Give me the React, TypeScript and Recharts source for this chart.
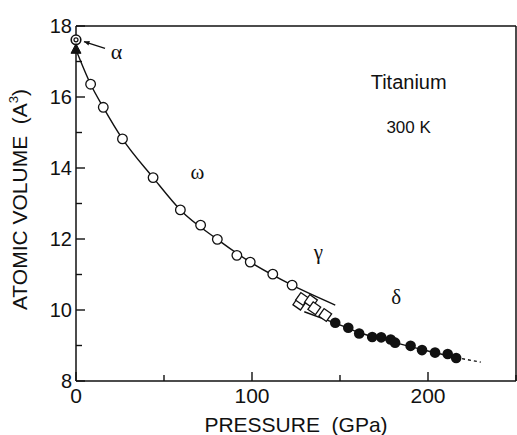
import React from "react";
import {
  ComposedChart,
  Line,
  Scatter,
  XAxis,
  YAxis,
  ReferenceDot,
  ReferenceLine,
  Label,
} from "recharts";

// values
const alphaP = [0];
const alphaV = [17.61];
const triP = [0];
const triV = [17.33];
const omegaP = [8.3, 15.5, 26.4, 43.8, 59.3, 70.8, 80.3, 91.4, 99.0, 111.8, 122.8];
const omegaV = [16.36, 15.71, 14.82, 13.73, 12.82, 12.39, 11.99, 11.54, 11.35, 11.01, 10.7];
const gammaP = [126.9, 128.4, 133.5, 135.4, 141.6];
const gammaV = [10.18, 10.31, 10.25, 10.05, 9.86];
const deltaP = [147.3, 154.7, 160.9, 168.3, 173.4, 178.8, 181.3, 190.1, 196.6, 204.0, 211.2, 216.0];
const deltaV = [9.64, 9.5, 9.34, 9.24, 9.23, 9.17, 9.08, 8.99, 8.87, 8.8, 8.76, 8.65];

// hand-drawn fit curves
const fitOmegaP = [0, 8.3, 15.5, 26.4, 43.8, 59.3, 80.3, 99.0, 122.8, 147.3];
const fitOmegaV = [17.33, 16.36, 15.71, 14.82, 13.73, 12.82, 11.99, 11.35, 10.7, 10.14];
const fitDeltaP = [129.7, 147.3, 163, 180, 197, 216];
const fitDeltaV = [9.95, 9.63, 9.33, 9.1, 8.88, 8.66];
const fitDeltaExtP = [216, 230];
const fitDeltaExtV = [8.66, 8.53];

const xTicks = [0, 50, 100, 150, 200, 250];
const xLabeled = [0, 100, 200];
const yTicks = [8, 9, 10, 11, 12, 13, 14, 15, 16, 17, 18];
const yLabeled = [8, 10, 12, 14, 16, 18];

// annotations: text, pressure, volume
const noteText = ["ω", "γ", "δ"];
const noteP = [69, 137.7, 182];
const noteV = [13.9, 11.63, 10.39];

const pts = (p: number[], v: number[]) => p.map((x, i) => ({ p: x, v: v[i] }));

const INK = "#111";
const SANS = "'Liberation Sans', Arial, sans-serif";
const SERIF = "'Liberation Serif', 'DejaVu Serif', serif";

const LeftTick = (props: any) => {
  const { x, y, payload } = props;
  const ax = x + 6;
  const major = yLabeled.includes(payload.value);
  return (
    <g>
      <line x1={ax} x2={ax + (major ? 9 : 6)} y1={y} y2={y} stroke={INK} strokeWidth={1.4} />
      {major && (
        <text x={ax - 4} y={y + 7} textAnchor="end" fontSize={20} fontFamily={SANS} fill={INK}>
          {payload.value}
        </text>
      )}
    </g>
  );
};

const RightTick = (props: any) => {
  const { x, y, payload } = props;
  const ax = x - 6;
  const major = yLabeled.includes(payload.value);
  return <line x1={ax} x2={ax - (major ? 9 : 6)} y1={y} y2={y} stroke={INK} strokeWidth={1.4} />;
};

const BottomTick = (props: any) => {
  const { x, y, payload } = props;
  const ay = y - 6;
  const major = xLabeled.includes(payload.value);
  return (
    <g>
      <line x1={x} x2={x} y1={ay} y2={ay - (major ? 9 : 6)} stroke={INK} strokeWidth={1.4} />
      {major && (
        <text x={x} y={ay + 22} textAnchor="middle" fontSize={21} fontFamily={SANS} fill={INK}>
          {payload.value}
        </text>
      )}
    </g>
  );
};

const TopTick = (props: any) => {
  const { x, y, payload } = props;
  const ay = y + 6;
  const major = xLabeled.includes(payload.value);
  return <line x1={x} x2={x} y1={ay} y2={ay + (major ? 9 : 6)} stroke={INK} strokeWidth={1.4} />;
};

const OpenCircle = (p: any) => (
  <circle cx={p.cx} cy={p.cy} r={4.8} fill="#fff" stroke={INK} strokeWidth={1.3} />
);
const FilledCircle = (p: any) => <circle cx={p.cx} cy={p.cy} r={5.3} fill={INK} />;
const DoubleCircle = (p: any) => (
  <g>
    <circle cx={p.cx} cy={p.cy} r={4.8} fill="#fff" stroke={INK} strokeWidth={1.6} />
    <circle cx={p.cx} cy={p.cy} r={2} fill="none" stroke={INK} strokeWidth={1.2} />
  </g>
);
const Triangle = (p: any) => (
  <polygon
    points={`${p.cx},${p.cy - 6} ${p.cx - 5},${p.cy + 3.5} ${p.cx + 5},${p.cy + 3.5}`}
    fill={INK}
    stroke={INK}
  />
);
const Diamond = (p: any) => (
  <rect
    x={p.cx - 4.6}
    y={p.cy - 4.6}
    width={9.2}
    height={9.2}
    fill="#fff"
    stroke={INK}
    strokeWidth={1.3}
    transform={`rotate(35 ${p.cx} ${p.cy})`}
  />
);

const Arrow = (p: any) => {
  const { x1, y1, x2, y2 } = p;
  const ang = Math.atan2(y1 - y2, x1 - x2);
  const len = 6;
  const a1 = ang + 0.4;
  const a2 = ang - 0.4;
  return (
    <g>
      <line x1={x1} y1={y1} x2={x2} y2={y2} stroke={INK} strokeWidth={1.3} />
      <polygon
        points={`${x1},${y1} ${x1 - len * Math.cos(a1)},${y1 - len * Math.sin(a1)} ${x1 - len * Math.cos(a2)},${y1 - len * Math.sin(a2)}`}
        fill={INK}
      />
    </g>
  );
};

const TextDot = (txt: string, size: number, family: string) => (p: any) => (
  <text
    x={p.cx}
    y={p.cy + size * 0.35}
    textAnchor="middle"
    fontSize={size}
    fontFamily={family}
    fill={INK}
  >
    {txt}
  </text>
);

export default function App() {
  return (
    <div style={{ position: "absolute", left: 0, top: 0, background: "#fff" }}>
      <ComposedChart
        width={517}
        height={435}
        margin={{ top: 16, right: 0, bottom: 0, left: 0 }}
      >
        <XAxis
          dataKey="p"
          type="number"
          domain={[0, 250]}
          ticks={xTicks}
          height={54}
          axisLine={{ stroke: INK, strokeWidth: 1.5 }}
          tickLine={false}
          tickSize={0}
          tickMargin={6}
          tick={<BottomTick />}
          interval={0}
        >
          <Label
            content={(lp: any) => {
              const vb = lp.viewBox;
              return (
                <text
                  x={vb.x + vb.width / 2}
                  y={vb.y + vb.height - 3}
                  textAnchor="middle"
                  fontSize={21}
                  fontFamily={SANS}
                  fill={INK}
                  xmlSpace="preserve"
                >
                  {"PRESSURE  (GPa)"}
                </text>
              );
            }}
          />
        </XAxis>
        <XAxis
          xAxisId="top"
          orientation="top"
          dataKey="p"
          type="number"
          domain={[0, 250]}
          ticks={xTicks}
          height={10}
          axisLine={{ stroke: INK, strokeWidth: 1.5 }}
          tickLine={false}
          tickSize={0}
          tickMargin={6}
          tick={<TopTick />}
          interval={0}
        />
        <YAxis
          dataKey="v"
          type="number"
          domain={[8, 18]}
          ticks={yTicks}
          width={76}
          axisLine={{ stroke: INK, strokeWidth: 1.5 }}
          tickLine={false}
          tickSize={0}
          tickMargin={6}
          tick={<LeftTick />}
          interval={0}
        >
          <Label
            content={(lp: any) => {
              const vb = lp.viewBox;
              const cx = vb.x + 27;
              const cy = vb.y + vb.height / 2 - 4;
              return (
                <text
                  x={cx}
                  y={cy}
                  textAnchor="middle"
                  fontSize={21}
                  fontFamily={SANS}
                  fill={INK}
                  transform={`rotate(-90 ${cx} ${cy})`}
                  xmlSpace="preserve"
                >
                  {"ATOMIC VOLUME  (A"}
                  <tspan fontSize={13} dy={-9}>3</tspan>
                  <tspan dy={9}>)</tspan>
                </text>
              );
            }}
          />
        </YAxis>
        <YAxis
          yAxisId="right"
          orientation="right"
          dataKey="v"
          type="number"
          domain={[8, 18]}
          ticks={yTicks}
          width={1}
          axisLine={{ stroke: INK, strokeWidth: 1.5 }}
          tickLine={false}
          tickSize={0}
          tickMargin={6}
          tick={<RightTick />}
          interval={0}
        />

        <Line
          data={pts(fitOmegaP, fitOmegaV)}
          dataKey="v"
          type="monotone"
          stroke={INK}
          strokeWidth={1.4}
          dot={false}
          activeDot={false}
          isAnimationActive={false}
        />
        <Line
          data={pts(fitDeltaP, fitDeltaV)}
          dataKey="v"
          type="monotone"
          stroke={INK}
          strokeWidth={1.4}
          dot={false}
          activeDot={false}
          isAnimationActive={false}
        />
        <Line
          data={pts(fitDeltaExtP, fitDeltaExtV)}
          dataKey="v"
          type="linear"
          stroke={INK}
          strokeWidth={1.4}
          strokeDasharray="3 3"
          dot={false}
          activeDot={false}
          isAnimationActive={false}
        />

        <Scatter data={pts(omegaP, omegaV)} shape={OpenCircle} isAnimationActive={false} />
        <Scatter data={pts(gammaP, gammaV)} shape={Diamond} isAnimationActive={false} />
        <Scatter data={pts(deltaP, deltaV)} shape={FilledCircle} isAnimationActive={false} />
        <Scatter data={pts(alphaP, alphaV)} shape={DoubleCircle} isAnimationActive={false} />
        <Scatter data={pts(triP, triV)} shape={Triangle} isAnimationActive={false} />

        <ReferenceLine
          segment={[
            { x: 4.5, y: 17.56 },
            { x: 16.5, y: 17.37 },
          ]}
          shape={Arrow}
          ifOverflow="visible"
        />
        <ReferenceDot x={23} y={17.28} r={0} shape={TextDot("α", 22, SERIF)} ifOverflow="visible" />
        {noteText.map((t, i) => (
          <ReferenceDot key={t} x={noteP[i]} y={noteV[i]} r={0} shape={TextDot(t, 21, SERIF)} />
        ))}
        <ReferenceDot x={189} y={16.42} r={0} shape={TextDot("Titanium", 20, SANS)} />
        <ReferenceDot x={189} y={15.15} r={0} shape={TextDot("300 K", 17, SANS)} />
      </ComposedChart>
    </div>
  );
}
